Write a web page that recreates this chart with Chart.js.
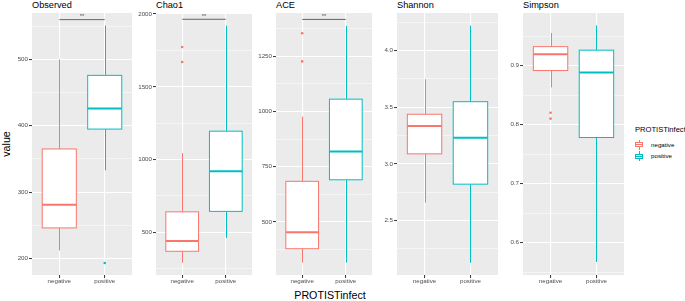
<!DOCTYPE html>
<html>
<head>
<meta charset="utf-8">
<script src="https://cdn.jsdelivr.net/npm/chart.js@4.4.1/dist/chart.umd.min.js"></script>
<style>
  html,body{margin:0;padding:0;background:#fff;}
  body{width:685px;height:301px;position:relative;overflow:hidden;font-family:"Liberation Sans",Arial,Helvetica,sans-serif;}
  canvas{position:absolute;top:0;}
  .ptitle{position:absolute;top:0;font-size:9.2px;line-height:11px;color:#000;white-space:nowrap;}
  .ylab{position:absolute;left:-14px;top:138px;width:40px;text-align:center;font-size:10.7px;line-height:12px;transform:rotate(-90deg);color:#000;}
  .xlab{position:absolute;left:270px;top:289px;width:120px;text-align:center;font-size:10.7px;line-height:12px;color:#000;}
  .leg-title{position:absolute;left:635px;top:125px;font-size:7.6px;line-height:9px;white-space:nowrap;color:#000;}
  .leg-item{position:absolute;left:634px;width:10px;height:10px;}
  .leg-item .wh{position:absolute;left:4.5px;top:0;width:1px;height:10px;}
  .leg-item .bx{position:absolute;left:1px;top:2.5px;width:6px;height:3px;background:#fff;border:1px solid;}
  .leg-item .md{position:absolute;left:1px;top:4.5px;width:8px;height:1px;}
  .leg-text{position:absolute;left:651px;font-size:6.2px;line-height:8px;color:#000;white-space:nowrap;}
</style>
</head>
<body>
<div class="ylab">value</div>
<div class="xlab">PROTISTinfect</div>
<div class="leg-title">PROTISTinfect</div>
<div id="legend"></div>
<script>
const PANELS = ['Observed','Chao1','ACE','Shannon','Simpson'];
const GROUPS = ['negative','positive'];
const COLORS = ['#F8766D','#00BFC4'];

// [lower whisker, Q1, median, Q3, upper whisker]
const NEG_STATS = [
  [212, 246, 281, 365, 500],
  [291, 370, 440, 641, 1044],
  [316, 379, 453, 684, 977],
  [2.658, 3.088, 3.335, 3.438, 3.747],
  [0.863, 0.8915, 0.919, 0.932, 0.955]
];
const POS_STATS = [
  [333, 395, 426, 476, 551],
  [461, 644, 920, 1195, 1920],
  [316, 691, 819, 1056, 1388],
  [2.125, 2.82, 3.231, 3.549, 4.221],
  [0.567, 0.778, 0.888, 0.926, 0.968]
];
const NEG_OUTLIERS = [[], [1670, 1773], [1227, 1354], [], [0.81, 0.82]];
const POS_OUTLIERS = [[193], [], [], [], []];

const Y_MIN = [175, 207, 260, 2.017, 0.545];
const Y_MAX = [570, 2007, 1446, 4.333, 0.989];
const MAJOR_TICKS = [[200,300,400,500],[500,1000,1500,2000],[500,750,1000,1250],[2.5,3,3.5,4],[0.6,0.7,0.8,0.9]];
const MINOR_TICKS = [[250,350,450,550],[250,750,1250,1750],[375,625,875,1125,1375],[2.25,2.75,3.25,3.75,4.25],[0.55,0.65,0.75,0.85,0.95]];
const TICK_DIGITS = [0, 0, 0, 1, 1];

const SIG_Y = [560, 1964, 1417, null, null];
const SIG_LABEL = ['**', '**', '**', null, null];

// layout
const PANEL_LEFT = [32, 156, 276, 397, 523];
const PANEL_W = [104, 100, 100, 101, 105];
const AXIS_W = 32;
const FONT = '"Liberation Sans", Arial, Helvetica, sans-serif';

function makePlugin(i) {
  return {
    id: 'boxes' + i,
    beforeDraw(chart) {
      const a = chart.chartArea, c = chart.ctx;
      c.save(); c.fillStyle = '#EBEBEB'; c.fillRect(a.left, a.top, a.width, a.height); c.restore();
    },
    beforeDatasetsDraw(chart) {
      const x = chart.scales.x, y = chart.scales.y, c = chart.ctx;
      c.save();
      [NEG_STATS[i], POS_STATS[i]].forEach((s, g) => {
        const cx = Math.round(x.getPixelForValue(g + 1)) + 0.5;
        const x0 = x.getPixelForValue(g + 1 - 0.375), x1 = x.getPixelForValue(g + 1 + 0.375);
        const [lo, q1, med, q3, hi] = s.map(v => y.getPixelForValue(v));
        c.strokeStyle = COLORS[g]; c.lineWidth = 1;
        c.beginPath(); c.moveTo(cx, lo); c.lineTo(cx, q1); c.moveTo(cx, q3); c.lineTo(cx, hi); c.stroke();
        c.fillStyle = '#fff'; c.fillRect(x0, q3, x1 - x0, q1 - q3);
        c.strokeRect(x0, q3, x1 - x0, q1 - q3);
        c.lineWidth = 2;
        c.beginPath(); c.moveTo(x0, med); c.lineTo(x1, med); c.stroke();
      });
      if (SIG_Y[i] != null) {
        const sy = y.getPixelForValue(SIG_Y[i]);
        const a = x.getPixelForValue(1), b = x.getPixelForValue(2);
        c.strokeStyle = '#666'; c.lineWidth = 1;
        c.beginPath(); c.moveTo(a, sy); c.lineTo(b, sy); c.stroke();
        c.fillStyle = '#555'; c.font = '6px ' + FONT; c.textAlign = 'center'; c.textBaseline = 'bottom';
        c.fillText(SIG_LABEL[i], (a + b) / 2, sy);
      }
      c.restore();
    }
  };
}

PANELS.forEach((name, i) => {
  const t = document.createElement('div');
  t.className = 'ptitle'; t.style.left = PANEL_LEFT[i] + 'px'; t.textContent = name;
  document.body.appendChild(t);

  const cv = document.createElement('canvas');
  const w = PANEL_W[i] + AXIS_W;
  cv.width = w; cv.height = 301;
  cv.style.left = (PANEL_LEFT[i] - AXIS_W) + 'px';
  cv.style.width = w + 'px'; cv.style.height = '301px';
  document.body.appendChild(cv);

  const majors = MAJOR_TICKS[i];
  const isMajor = v => majors.some(m => Math.abs(m - v) < 1e-9);
  const allTicks = majors.concat(MINOR_TICKS[i]).sort((a, b) => a - b);

  new Chart(cv, {
    type: 'scatter',
    data: {
      datasets: [
        { data: NEG_OUTLIERS[i].map(v => ({x: 1, y: v})), backgroundColor: COLORS[0], pointRadius: 1.3, borderWidth: 0 },
        { data: POS_OUTLIERS[i].map(v => ({x: 2, y: v})), backgroundColor: COLORS[1], pointRadius: 1.3, borderWidth: 0 }
      ]
    },
    options: {
      responsive: false, animation: false, devicePixelRatio: 1,
      layout: { padding: { top: 13, left: 0, right: 0, bottom: 0 } },
      plugins: { legend: { display: false }, tooltip: { enabled: false } },
      scales: {
        x: {
          type: 'linear', min: 0.4, max: 2.6,
          afterBuildTicks: s => { s.ticks = [{value: 1}, {value: 2}]; },
          afterFit: s => { s.height = 26; },
          border: { display: false },
          grid: { color: '#fff', lineWidth: 1.1, tickLength: 3, tickColor: '#333', tickWidth: 1 },
          ticks: { autoSkip: false, maxRotation: 0, padding: 0, color: '#4D4D4D', font: { family: FONT, size: 6.2 },
                   callback: v => GROUPS[v - 1] }
        },
        y: {
          type: 'linear', min: Y_MIN[i], max: Y_MAX[i],
          afterBuildTicks: s => { s.ticks = allTicks.map(v => ({value: v})); },
          afterFit: s => { s.width = AXIS_W; },
          border: { display: false },
          grid: {
            color: '#fff',
            lineWidth: c => isMajor(c.tick.value) ? 1.1 : 0.5,
            tickLength: 3,
            tickColor: c => isMajor(c.tick.value) ? '#333' : 'rgba(0,0,0,0)',
            tickWidth: 1
          },
          ticks: { autoSkip: false, padding: 1, color: '#4D4D4D', font: { family: FONT, size: 6.2 },
                   callback: v => isMajor(v) ? v.toFixed(TICK_DIGITS[i]) : '' }
        }
      }
    },
    plugins: [makePlugin(i)]
  });
});

const legend = document.getElementById('legend');
GROUPS.forEach((g, k) => {
  const top = 139.5 + k * 11.6;
  const item = document.createElement('div');
  item.className = 'leg-item'; item.style.top = top + 'px';
  item.innerHTML = '<div class="wh" style="background:' + COLORS[k] + '"></div>'
    + '<div class="bx" style="border-color:' + COLORS[k] + '"></div>'
    + '<div class="md" style="background:' + COLORS[k] + '"></div>';
  legend.appendChild(item);
  const tx = document.createElement('div');
  tx.className = 'leg-text'; tx.style.top = (top + 1) + 'px'; tx.textContent = g;
  legend.appendChild(tx);
});
</script>
</body>
</html>
